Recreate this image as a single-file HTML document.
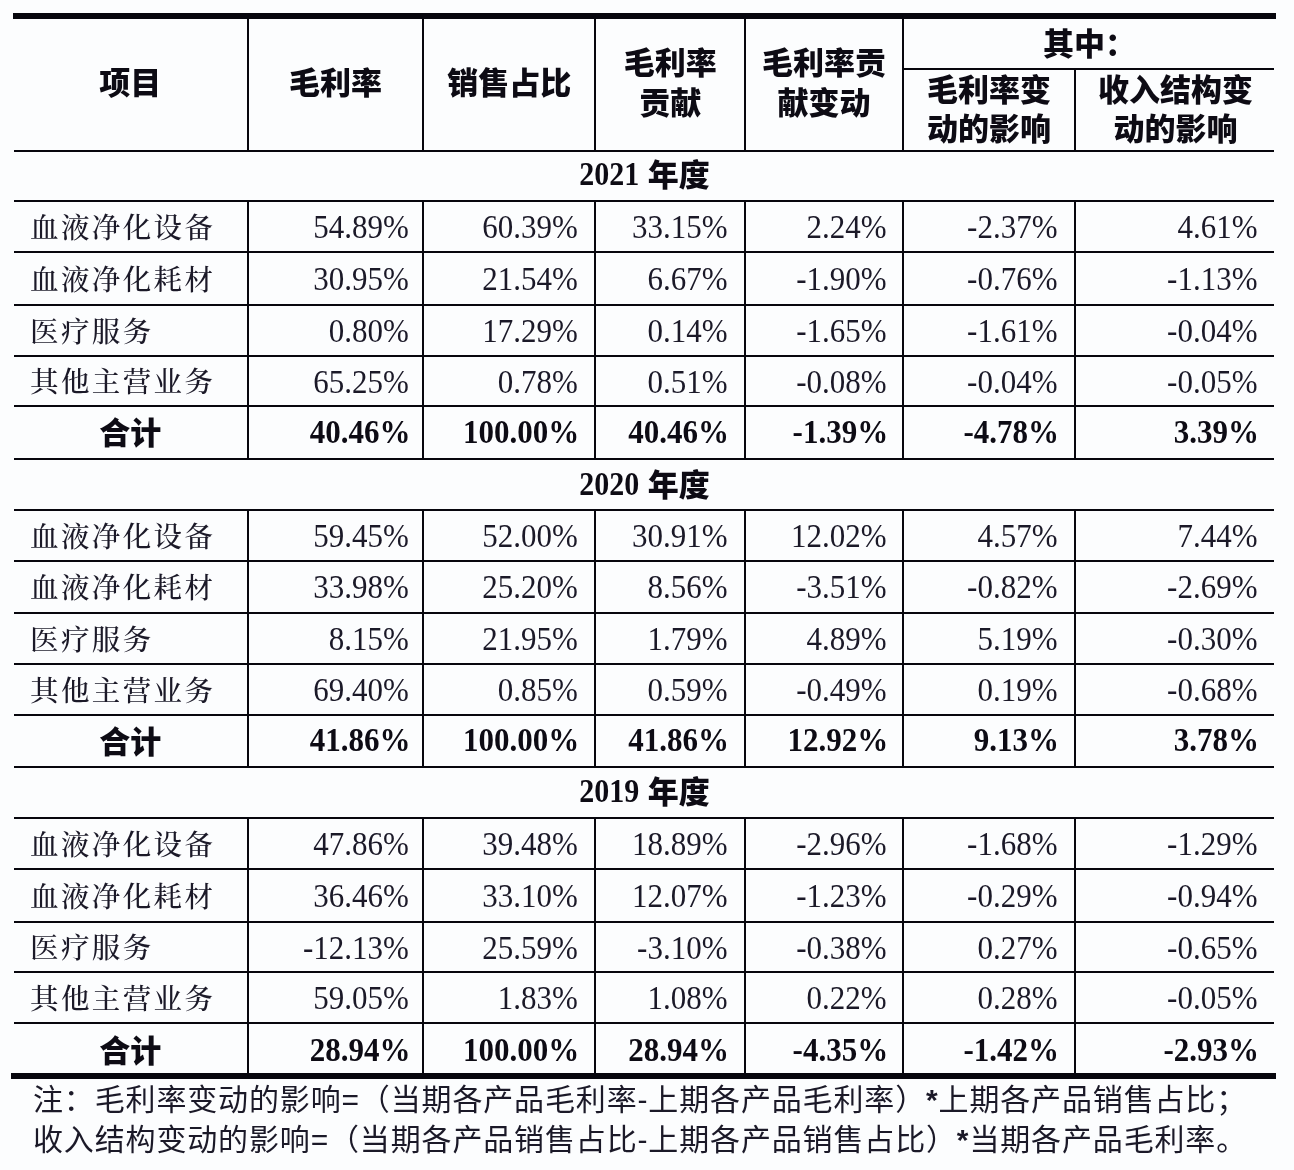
<!DOCTYPE html>
<html><head><meta charset="utf-8"><style>
*{margin:0;padding:0;box-sizing:border-box}
html,body{width:1294px;height:1170px;overflow:hidden;background:#fcfdfe}
#p{position:relative;width:1294px;height:1170px;background:#fcfdfe;filter:blur(0.35px)}
i{position:absolute;display:block;background:#07060d}
.c{position:absolute;display:flex;align-items:center;justify-content:center;text-align:center;white-space:nowrap;color:#1b1928}
.h{font-family:"Liberation Sans","Noto Sans CJK SC",sans-serif;font-weight:900;font-size:31px;color:#0d0b14}
.h2{line-height:40px}
.h3{line-height:39px}
.yr{font-family:"Liberation Sans","Noto Sans CJK SC",sans-serif;font-weight:900;font-size:31px;color:#0d0b14}
.tb{font-family:"Liberation Serif",serif;font-weight:700;font-size:30px}
.nm{font-family:"Liberation Serif","Noto Serif CJK SC",serif;font-weight:500;font-size:28.5px;letter-spacing:2.4px}
.num{font-family:"Liberation Serif",serif;font-size:31px}
.num span{display:inline-block;transform:scaleY(1.07);transform-origin:50% 60%}
.tb{display:inline-block;transform:translateY(-1.5px) scaleY(1.09)}
.b{font-weight:700;color:#0d0b14}
.note b{font-weight:700}
.note{position:absolute;white-space:nowrap;font-family:"Liberation Sans","Noto Sans CJK SC",sans-serif;font-weight:400;font-size:30px;line-height:40px;letter-spacing:0.85px;color:#1b1928}
</style></head>
<body><div id="p">
<i style="left:13.0px;top:12.7px;width:1263.0px;height:5.9px"></i><i style="left:903.2px;top:68.0px;width:370.8px;height:2.0px"></i><i style="left:13.5px;top:149.6px;width:1260.5px;height:2.0px"></i><i style="left:13.5px;top:200.4px;width:1260.5px;height:2.0px"></i><i style="left:13.5px;top:250.9px;width:1260.5px;height:2.0px"></i><i style="left:13.5px;top:303.9px;width:1260.5px;height:2.0px"></i><i style="left:13.5px;top:354.7px;width:1260.5px;height:2.0px"></i><i style="left:13.5px;top:405.4px;width:1260.5px;height:2.0px"></i><i style="left:13.5px;top:458.0px;width:1260.5px;height:2.0px"></i><i style="left:13.5px;top:508.9px;width:1260.5px;height:2.0px"></i><i style="left:13.5px;top:559.6px;width:1260.5px;height:2.0px"></i><i style="left:13.5px;top:612.3px;width:1260.5px;height:2.0px"></i><i style="left:13.5px;top:663.2px;width:1260.5px;height:2.0px"></i><i style="left:13.5px;top:713.8px;width:1260.5px;height:2.0px"></i><i style="left:13.5px;top:766.4px;width:1260.5px;height:2.0px"></i><i style="left:13.5px;top:817.1px;width:1260.5px;height:2.0px"></i><i style="left:13.5px;top:867.9px;width:1260.5px;height:2.0px"></i><i style="left:13.5px;top:920.9px;width:1260.5px;height:2.0px"></i><i style="left:13.5px;top:971.3px;width:1260.5px;height:2.0px"></i><i style="left:13.5px;top:1022.1px;width:1260.5px;height:2.0px"></i><i style="left:11.0px;top:1073.0px;width:1265.0px;height:6.0px"></i><i style="left:246.5px;top:19.0px;width:2.0px;height:132.6px"></i><i style="left:422.4px;top:19.0px;width:2.0px;height:132.6px"></i><i style="left:594.3px;top:19.0px;width:2.0px;height:132.6px"></i><i style="left:744.0px;top:19.0px;width:2.0px;height:132.6px"></i><i style="left:902.2px;top:19.0px;width:2.0px;height:132.6px"></i><i style="left:1074.0px;top:69.0px;width:2.0px;height:82.6px"></i><i style="left:246.5px;top:200.4px;width:2.0px;height:259.6px"></i><i style="left:422.4px;top:200.4px;width:2.0px;height:259.6px"></i><i style="left:594.3px;top:200.4px;width:2.0px;height:259.6px"></i><i style="left:744.0px;top:200.4px;width:2.0px;height:259.6px"></i><i style="left:902.2px;top:200.4px;width:2.0px;height:259.6px"></i><i style="left:1074.0px;top:200.4px;width:2.0px;height:259.6px"></i><i style="left:246.5px;top:508.9px;width:2.0px;height:259.5px"></i><i style="left:422.4px;top:508.9px;width:2.0px;height:259.5px"></i><i style="left:594.3px;top:508.9px;width:2.0px;height:259.5px"></i><i style="left:744.0px;top:508.9px;width:2.0px;height:259.5px"></i><i style="left:902.2px;top:508.9px;width:2.0px;height:259.5px"></i><i style="left:1074.0px;top:508.9px;width:2.0px;height:259.5px"></i><i style="left:246.5px;top:817.1px;width:2.0px;height:256.7px"></i><i style="left:422.4px;top:817.1px;width:2.0px;height:256.7px"></i><i style="left:594.3px;top:817.1px;width:2.0px;height:256.7px"></i><i style="left:744.0px;top:817.1px;width:2.0px;height:256.7px"></i><i style="left:902.2px;top:817.1px;width:2.0px;height:256.7px"></i><i style="left:1074.0px;top:817.1px;width:2.0px;height:256.7px"></i>
<div class="c h" style="left:13.0px;top:14.8px;width:234.5px;height:130.6px;"><span>项目</span></div><div class="c h" style="left:247.5px;top:14.8px;width:175.9px;height:130.6px;"><span>毛利率</span></div><div class="c h" style="left:423.4px;top:14.8px;width:171.9px;height:130.6px;"><span>销售占比</span></div><div class="c h h2" style="left:595.3px;top:19.0px;width:149.7px;height:130.6px;"><span>毛利率<br>贡献</span></div><div class="c h h2" style="left:745.0px;top:19.0px;width:158.2px;height:130.6px;"><span>毛利率贡<br>献变动</span></div><div class="c h" style="left:903.2px;top:16.5px;width:372.8px;height:49.0px;"><span>其中：</span></div><div class="c h h3" style="left:903.2px;top:70.0px;width:171.8px;height:79.6px;"><span>毛利率变<br>动的影响</span></div><div class="c h h3" style="left:1075.0px;top:70.0px;width:201.0px;height:79.6px;"><span>收入结构变<br>动的影响</span></div><div class="c yr" style="left:13.0px;top:148.6px;width:1263.0px;height:48.8px;"><span><span class="tb">2021</span> 年度</span></div><div class="c nm" style="left:13.0px;top:200.2px;width:234.5px;height:50.5px;justify-content:flex-start;padding-left:17px;"><span>血液净化设备</span></div><div class="c num" style="left:247.5px;top:203.9px;width:175.9px;height:48.5px;justify-content:flex-end;padding-right:14.5px;"><span>54.89%</span></div><div class="c num" style="left:423.4px;top:203.9px;width:171.9px;height:48.5px;justify-content:flex-end;padding-right:17.5px;"><span>60.39%</span></div><div class="c num" style="left:595.3px;top:203.9px;width:149.7px;height:48.5px;justify-content:flex-end;padding-right:17.5px;"><span>33.15%</span></div><div class="c num" style="left:745.0px;top:203.9px;width:158.2px;height:48.5px;justify-content:flex-end;padding-right:16.5px;"><span>2.24%</span></div><div class="c num" style="left:903.2px;top:203.9px;width:171.8px;height:48.5px;justify-content:flex-end;padding-right:17.5px;"><span>-2.37%</span></div><div class="c num" style="left:1075.0px;top:203.9px;width:201.0px;height:48.5px;justify-content:flex-end;padding-right:18.5px;"><span>4.61%</span></div><div class="c nm" style="left:13.0px;top:250.7px;width:234.5px;height:53.0px;justify-content:flex-start;padding-left:17px;"><span>血液净化耗材</span></div><div class="c num" style="left:247.5px;top:254.4px;width:175.9px;height:51.0px;justify-content:flex-end;padding-right:14.5px;"><span>30.95%</span></div><div class="c num" style="left:423.4px;top:254.4px;width:171.9px;height:51.0px;justify-content:flex-end;padding-right:17.5px;"><span>21.54%</span></div><div class="c num" style="left:595.3px;top:254.4px;width:149.7px;height:51.0px;justify-content:flex-end;padding-right:17.5px;"><span>6.67%</span></div><div class="c num" style="left:745.0px;top:254.4px;width:158.2px;height:51.0px;justify-content:flex-end;padding-right:16.5px;"><span>-1.90%</span></div><div class="c num" style="left:903.2px;top:254.4px;width:171.8px;height:51.0px;justify-content:flex-end;padding-right:17.5px;"><span>-0.76%</span></div><div class="c num" style="left:1075.0px;top:254.4px;width:201.0px;height:51.0px;justify-content:flex-end;padding-right:18.5px;"><span>-1.13%</span></div><div class="c nm" style="left:13.0px;top:303.7px;width:234.5px;height:50.8px;justify-content:flex-start;padding-left:17px;"><span>医疗服务</span></div><div class="c num" style="left:247.5px;top:307.4px;width:175.9px;height:48.8px;justify-content:flex-end;padding-right:14.5px;"><span>0.80%</span></div><div class="c num" style="left:423.4px;top:307.4px;width:171.9px;height:48.8px;justify-content:flex-end;padding-right:17.5px;"><span>17.29%</span></div><div class="c num" style="left:595.3px;top:307.4px;width:149.7px;height:48.8px;justify-content:flex-end;padding-right:17.5px;"><span>0.14%</span></div><div class="c num" style="left:745.0px;top:307.4px;width:158.2px;height:48.8px;justify-content:flex-end;padding-right:16.5px;"><span>-1.65%</span></div><div class="c num" style="left:903.2px;top:307.4px;width:171.8px;height:48.8px;justify-content:flex-end;padding-right:17.5px;"><span>-1.61%</span></div><div class="c num" style="left:1075.0px;top:307.4px;width:201.0px;height:48.8px;justify-content:flex-end;padding-right:18.5px;"><span>-0.04%</span></div><div class="c nm" style="left:13.0px;top:354.5px;width:234.5px;height:50.7px;justify-content:flex-start;padding-left:17px;"><span>其他主营业务</span></div><div class="c num" style="left:247.5px;top:358.2px;width:175.9px;height:48.7px;justify-content:flex-end;padding-right:14.5px;"><span>65.25%</span></div><div class="c num" style="left:423.4px;top:358.2px;width:171.9px;height:48.7px;justify-content:flex-end;padding-right:17.5px;"><span>0.78%</span></div><div class="c num" style="left:595.3px;top:358.2px;width:149.7px;height:48.7px;justify-content:flex-end;padding-right:17.5px;"><span>0.51%</span></div><div class="c num" style="left:745.0px;top:358.2px;width:158.2px;height:48.7px;justify-content:flex-end;padding-right:16.5px;"><span>-0.08%</span></div><div class="c num" style="left:903.2px;top:358.2px;width:171.8px;height:48.7px;justify-content:flex-end;padding-right:17.5px;"><span>-0.04%</span></div><div class="c num" style="left:1075.0px;top:358.2px;width:201.0px;height:48.7px;justify-content:flex-end;padding-right:18.5px;"><span>-0.05%</span></div><div class="c h tot" style="left:13.0px;top:404.4px;width:234.5px;height:52.6px;"><span>合计</span></div><div class="c num b" style="left:247.5px;top:407.4px;width:175.9px;height:50.6px;justify-content:flex-end;padding-right:13.0px;"><span>40.46%</span></div><div class="c num b" style="left:423.4px;top:407.4px;width:171.9px;height:50.6px;justify-content:flex-end;padding-right:16.0px;"><span>100.00%</span></div><div class="c num b" style="left:595.3px;top:407.4px;width:149.7px;height:50.6px;justify-content:flex-end;padding-right:16.0px;"><span>40.46%</span></div><div class="c num b" style="left:745.0px;top:407.4px;width:158.2px;height:50.6px;justify-content:flex-end;padding-right:15.0px;"><span>-1.39%</span></div><div class="c num b" style="left:903.2px;top:407.4px;width:171.8px;height:50.6px;justify-content:flex-end;padding-right:16.0px;"><span>-4.78%</span></div><div class="c num b" style="left:1075.0px;top:407.4px;width:201.0px;height:50.6px;justify-content:flex-end;padding-right:17.0px;"><span>3.39%</span></div><div class="c yr" style="left:13.0px;top:458.5px;width:1263.0px;height:48.9px;"><span><span class="tb">2020</span> 年度</span></div><div class="c nm" style="left:13.0px;top:508.7px;width:234.5px;height:50.7px;justify-content:flex-start;padding-left:17px;"><span>血液净化设备</span></div><div class="c num" style="left:247.5px;top:512.4px;width:175.9px;height:48.7px;justify-content:flex-end;padding-right:14.5px;"><span>59.45%</span></div><div class="c num" style="left:423.4px;top:512.4px;width:171.9px;height:48.7px;justify-content:flex-end;padding-right:17.5px;"><span>52.00%</span></div><div class="c num" style="left:595.3px;top:512.4px;width:149.7px;height:48.7px;justify-content:flex-end;padding-right:17.5px;"><span>30.91%</span></div><div class="c num" style="left:745.0px;top:512.4px;width:158.2px;height:48.7px;justify-content:flex-end;padding-right:16.5px;"><span>12.02%</span></div><div class="c num" style="left:903.2px;top:512.4px;width:171.8px;height:48.7px;justify-content:flex-end;padding-right:17.5px;"><span>4.57%</span></div><div class="c num" style="left:1075.0px;top:512.4px;width:201.0px;height:48.7px;justify-content:flex-end;padding-right:18.5px;"><span>7.44%</span></div><div class="c nm" style="left:13.0px;top:559.4px;width:234.5px;height:52.7px;justify-content:flex-start;padding-left:17px;"><span>血液净化耗材</span></div><div class="c num" style="left:247.5px;top:563.1px;width:175.9px;height:50.7px;justify-content:flex-end;padding-right:14.5px;"><span>33.98%</span></div><div class="c num" style="left:423.4px;top:563.1px;width:171.9px;height:50.7px;justify-content:flex-end;padding-right:17.5px;"><span>25.20%</span></div><div class="c num" style="left:595.3px;top:563.1px;width:149.7px;height:50.7px;justify-content:flex-end;padding-right:17.5px;"><span>8.56%</span></div><div class="c num" style="left:745.0px;top:563.1px;width:158.2px;height:50.7px;justify-content:flex-end;padding-right:16.5px;"><span>-3.51%</span></div><div class="c num" style="left:903.2px;top:563.1px;width:171.8px;height:50.7px;justify-content:flex-end;padding-right:17.5px;"><span>-0.82%</span></div><div class="c num" style="left:1075.0px;top:563.1px;width:201.0px;height:50.7px;justify-content:flex-end;padding-right:18.5px;"><span>-2.69%</span></div><div class="c nm" style="left:13.0px;top:612.1px;width:234.5px;height:50.9px;justify-content:flex-start;padding-left:17px;"><span>医疗服务</span></div><div class="c num" style="left:247.5px;top:615.8px;width:175.9px;height:48.9px;justify-content:flex-end;padding-right:14.5px;"><span>8.15%</span></div><div class="c num" style="left:423.4px;top:615.8px;width:171.9px;height:48.9px;justify-content:flex-end;padding-right:17.5px;"><span>21.95%</span></div><div class="c num" style="left:595.3px;top:615.8px;width:149.7px;height:48.9px;justify-content:flex-end;padding-right:17.5px;"><span>1.79%</span></div><div class="c num" style="left:745.0px;top:615.8px;width:158.2px;height:48.9px;justify-content:flex-end;padding-right:16.5px;"><span>4.89%</span></div><div class="c num" style="left:903.2px;top:615.8px;width:171.8px;height:48.9px;justify-content:flex-end;padding-right:17.5px;"><span>5.19%</span></div><div class="c num" style="left:1075.0px;top:615.8px;width:201.0px;height:48.9px;justify-content:flex-end;padding-right:18.5px;"><span>-0.30%</span></div><div class="c nm" style="left:13.0px;top:663.0px;width:234.5px;height:50.6px;justify-content:flex-start;padding-left:17px;"><span>其他主营业务</span></div><div class="c num" style="left:247.5px;top:666.7px;width:175.9px;height:48.6px;justify-content:flex-end;padding-right:14.5px;"><span>69.40%</span></div><div class="c num" style="left:423.4px;top:666.7px;width:171.9px;height:48.6px;justify-content:flex-end;padding-right:17.5px;"><span>0.85%</span></div><div class="c num" style="left:595.3px;top:666.7px;width:149.7px;height:48.6px;justify-content:flex-end;padding-right:17.5px;"><span>0.59%</span></div><div class="c num" style="left:745.0px;top:666.7px;width:158.2px;height:48.6px;justify-content:flex-end;padding-right:16.5px;"><span>-0.49%</span></div><div class="c num" style="left:903.2px;top:666.7px;width:171.8px;height:48.6px;justify-content:flex-end;padding-right:17.5px;"><span>0.19%</span></div><div class="c num" style="left:1075.0px;top:666.7px;width:201.0px;height:48.6px;justify-content:flex-end;padding-right:18.5px;"><span>-0.68%</span></div><div class="c h tot" style="left:13.0px;top:712.8px;width:234.5px;height:52.6px;"><span>合计</span></div><div class="c num b" style="left:247.5px;top:715.8px;width:175.9px;height:50.6px;justify-content:flex-end;padding-right:13.0px;"><span>41.86%</span></div><div class="c num b" style="left:423.4px;top:715.8px;width:171.9px;height:50.6px;justify-content:flex-end;padding-right:16.0px;"><span>100.00%</span></div><div class="c num b" style="left:595.3px;top:715.8px;width:149.7px;height:50.6px;justify-content:flex-end;padding-right:16.0px;"><span>41.86%</span></div><div class="c num b" style="left:745.0px;top:715.8px;width:158.2px;height:50.6px;justify-content:flex-end;padding-right:15.0px;"><span>12.92%</span></div><div class="c num b" style="left:903.2px;top:715.8px;width:171.8px;height:50.6px;justify-content:flex-end;padding-right:16.0px;"><span>9.13%</span></div><div class="c num b" style="left:1075.0px;top:715.8px;width:201.0px;height:50.6px;justify-content:flex-end;padding-right:17.0px;"><span>3.78%</span></div><div class="c yr" style="left:13.0px;top:765.4px;width:1263.0px;height:48.7px;"><span><span class="tb">2019</span> 年度</span></div><div class="c nm" style="left:13.0px;top:816.9px;width:234.5px;height:50.8px;justify-content:flex-start;padding-left:17px;"><span>血液净化设备</span></div><div class="c num" style="left:247.5px;top:820.6px;width:175.9px;height:48.8px;justify-content:flex-end;padding-right:14.5px;"><span>47.86%</span></div><div class="c num" style="left:423.4px;top:820.6px;width:171.9px;height:48.8px;justify-content:flex-end;padding-right:17.5px;"><span>39.48%</span></div><div class="c num" style="left:595.3px;top:820.6px;width:149.7px;height:48.8px;justify-content:flex-end;padding-right:17.5px;"><span>18.89%</span></div><div class="c num" style="left:745.0px;top:820.6px;width:158.2px;height:48.8px;justify-content:flex-end;padding-right:16.5px;"><span>-2.96%</span></div><div class="c num" style="left:903.2px;top:820.6px;width:171.8px;height:48.8px;justify-content:flex-end;padding-right:17.5px;"><span>-1.68%</span></div><div class="c num" style="left:1075.0px;top:820.6px;width:201.0px;height:48.8px;justify-content:flex-end;padding-right:18.5px;"><span>-1.29%</span></div><div class="c nm" style="left:13.0px;top:867.7px;width:234.5px;height:53.0px;justify-content:flex-start;padding-left:17px;"><span>血液净化耗材</span></div><div class="c num" style="left:247.5px;top:871.4px;width:175.9px;height:51.0px;justify-content:flex-end;padding-right:14.5px;"><span>36.46%</span></div><div class="c num" style="left:423.4px;top:871.4px;width:171.9px;height:51.0px;justify-content:flex-end;padding-right:17.5px;"><span>33.10%</span></div><div class="c num" style="left:595.3px;top:871.4px;width:149.7px;height:51.0px;justify-content:flex-end;padding-right:17.5px;"><span>12.07%</span></div><div class="c num" style="left:745.0px;top:871.4px;width:158.2px;height:51.0px;justify-content:flex-end;padding-right:16.5px;"><span>-1.23%</span></div><div class="c num" style="left:903.2px;top:871.4px;width:171.8px;height:51.0px;justify-content:flex-end;padding-right:17.5px;"><span>-0.29%</span></div><div class="c num" style="left:1075.0px;top:871.4px;width:201.0px;height:51.0px;justify-content:flex-end;padding-right:18.5px;"><span>-0.94%</span></div><div class="c nm" style="left:13.0px;top:920.7px;width:234.5px;height:50.4px;justify-content:flex-start;padding-left:17px;"><span>医疗服务</span></div><div class="c num" style="left:247.5px;top:924.4px;width:175.9px;height:48.4px;justify-content:flex-end;padding-right:14.5px;"><span>-12.13%</span></div><div class="c num" style="left:423.4px;top:924.4px;width:171.9px;height:48.4px;justify-content:flex-end;padding-right:17.5px;"><span>25.59%</span></div><div class="c num" style="left:595.3px;top:924.4px;width:149.7px;height:48.4px;justify-content:flex-end;padding-right:17.5px;"><span>-3.10%</span></div><div class="c num" style="left:745.0px;top:924.4px;width:158.2px;height:48.4px;justify-content:flex-end;padding-right:16.5px;"><span>-0.38%</span></div><div class="c num" style="left:903.2px;top:924.4px;width:171.8px;height:48.4px;justify-content:flex-end;padding-right:17.5px;"><span>0.27%</span></div><div class="c num" style="left:1075.0px;top:924.4px;width:201.0px;height:48.4px;justify-content:flex-end;padding-right:18.5px;"><span>-0.65%</span></div><div class="c nm" style="left:13.0px;top:971.1px;width:234.5px;height:50.8px;justify-content:flex-start;padding-left:17px;"><span>其他主营业务</span></div><div class="c num" style="left:247.5px;top:974.8px;width:175.9px;height:48.8px;justify-content:flex-end;padding-right:14.5px;"><span>59.05%</span></div><div class="c num" style="left:423.4px;top:974.8px;width:171.9px;height:48.8px;justify-content:flex-end;padding-right:17.5px;"><span>1.83%</span></div><div class="c num" style="left:595.3px;top:974.8px;width:149.7px;height:48.8px;justify-content:flex-end;padding-right:17.5px;"><span>1.08%</span></div><div class="c num" style="left:745.0px;top:974.8px;width:158.2px;height:48.8px;justify-content:flex-end;padding-right:16.5px;"><span>0.22%</span></div><div class="c num" style="left:903.2px;top:974.8px;width:171.8px;height:48.8px;justify-content:flex-end;padding-right:17.5px;"><span>0.28%</span></div><div class="c num" style="left:1075.0px;top:974.8px;width:201.0px;height:48.8px;justify-content:flex-end;padding-right:18.5px;"><span>-0.05%</span></div><div class="c h tot" style="left:13.0px;top:1024.1px;width:234.5px;height:49.7px;"><span>合计</span></div><div class="c num b" style="left:247.5px;top:1027.1px;width:175.9px;height:47.7px;justify-content:flex-end;padding-right:13.0px;"><span>28.94%</span></div><div class="c num b" style="left:423.4px;top:1027.1px;width:171.9px;height:47.7px;justify-content:flex-end;padding-right:16.0px;"><span>100.00%</span></div><div class="c num b" style="left:595.3px;top:1027.1px;width:149.7px;height:47.7px;justify-content:flex-end;padding-right:16.0px;"><span>28.94%</span></div><div class="c num b" style="left:745.0px;top:1027.1px;width:158.2px;height:47.7px;justify-content:flex-end;padding-right:15.0px;"><span>-4.35%</span></div><div class="c num b" style="left:903.2px;top:1027.1px;width:171.8px;height:47.7px;justify-content:flex-end;padding-right:16.0px;"><span>-1.42%</span></div><div class="c num b" style="left:1075.0px;top:1027.1px;width:201.0px;height:47.7px;justify-content:flex-end;padding-right:17.0px;"><span>-2.93%</span></div>
<div class="note" style="left:33px;top:1080px;">注：毛利率变动的影响=（当期各产品毛利率-上期各产品毛利率）<b>*</b>上期各产品销售占比；</div><div class="note" style="left:33px;top:1119.5px;">收入结构变动的影响=（当期各产品销售占比-上期各产品销售占比）<b>*</b>当期各产品毛利率。</div>
</div></body></html>
